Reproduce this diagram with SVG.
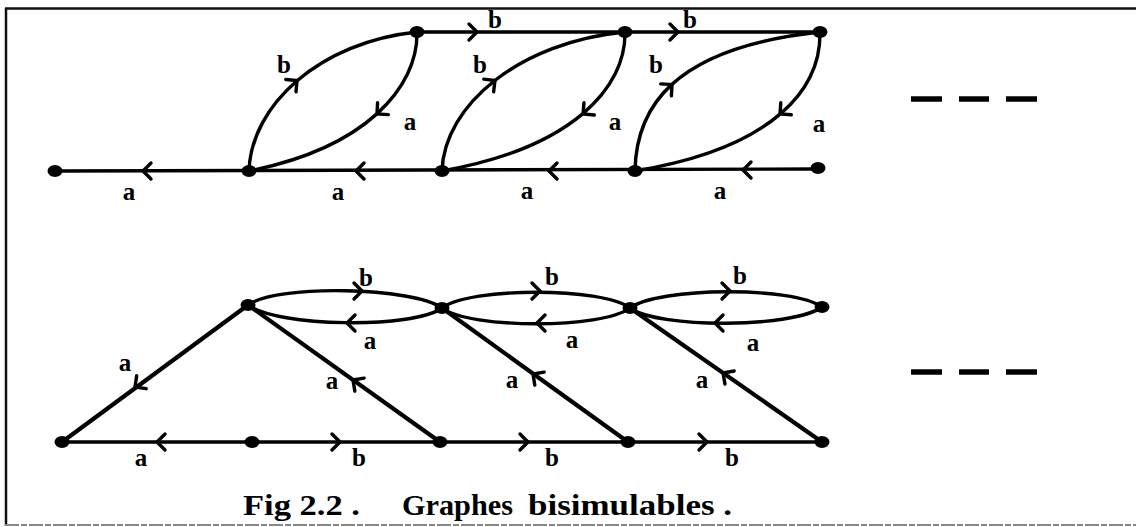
<svg xmlns="http://www.w3.org/2000/svg" xmlns:xlink="http://www.w3.org/1999/xlink" width="1136" height="527" viewBox="0 0 1136 527">
<style>
.e{fill:none;stroke:#000;stroke-width:3.4;stroke-linecap:round}
.d{fill:none;stroke:#000;stroke-width:4.2;stroke-linecap:round}
.n{fill:#000}
.l{font-family:"Liberation Serif","Times New Roman",serif;font-size:25px;font-weight:bold;fill:#000;text-anchor:middle}
.cap{font-family:"Liberation Serif","Times New Roman",serif;font-size:29px;font-weight:bold;fill:#000}
.dash{stroke:#000;stroke-width:5.5}
</style>
<defs>
<path id="ar" d="M-8,-8 L0,0 L-8,8" fill="none" stroke="#000" stroke-width="3.4" stroke-linecap="round" stroke-linejoin="miter"/>
</defs>
<rect width="1136" height="527" fill="#fff"/>
<g id="frame">
<line x1="6" y1="8" x2="6" y2="526" stroke="#111" stroke-width="2.5"/>
<line x1="5" y1="8.5" x2="1136" y2="8.5" stroke="#111" stroke-width="2.5"/>
<line x1="5" y1="525" x2="1136" y2="525" stroke="#888" stroke-width="2" stroke-dasharray="14 2 6 2"/>
</g>
<g id="connectors">
<!-- top graph -->
<line class="e" x1="55" y1="171" x2="818" y2="169"/>
<line class="e" x1="417" y1="32" x2="820" y2="32"/>
<path class="e" d="M249,171 C251,105 320,42 417,32"/>
<path class="e" d="M417,32 C418,88 365,148 249,171"/>
<path class="e" d="M442,171 C444,105 520,42 625,32"/>
<path class="e" d="M625,32 C626,88 572,148 442,171"/>
<path class="e" d="M635,171 C636,110 670,48 820,32"/>
<path class="e" d="M820,32 C821,88 775,148 635,171"/>
<use xlink:href="#ar" transform="translate(143,171) rotate(180)"/>
<use xlink:href="#ar" transform="translate(356,171) rotate(180)"/>
<use xlink:href="#ar" transform="translate(549,171) rotate(180)"/>
<use xlink:href="#ar" transform="translate(743,170) rotate(180)"/>
<use xlink:href="#ar" transform="translate(477,32)"/>
<use xlink:href="#ar" transform="translate(678,32)"/>
<use xlink:href="#ar" transform="translate(297,80.5) rotate(-40)"/>
<use xlink:href="#ar" transform="translate(377,114) rotate(138)"/>
<use xlink:href="#ar" transform="translate(495,80.5) rotate(-38)"/>
<use xlink:href="#ar" transform="translate(583,114) rotate(140)"/>
<use xlink:href="#ar" transform="translate(672,84.5) rotate(-42)"/>
<use xlink:href="#ar" transform="translate(780,114) rotate(139)"/>
<!-- bottom graph -->
<line class="e" x1="62" y1="442" x2="822" y2="442"/>
<path class="e" d="M248,305 C277,284 413,287 442,308"/>
<path class="e" d="M248,305 C277,327 413,329 442,308"/>
<path class="e" d="M442,308 C470,287 602,287 630,308"/>
<path class="e" d="M442,308 C470,329 602,329 630,308"/>
<path class="e" d="M630,308 C659,287 793,286 822,307"/>
<path class="e" d="M630,308 C659,329 793,328 822,307"/>
<line class="d" x1="248" y1="305" x2="62" y2="442"/>
<line class="d" x1="248" y1="305" x2="440" y2="442"/>
<line class="d" x1="442" y1="308" x2="628" y2="442"/>
<line class="d" x1="630" y1="308" x2="822" y2="442"/>
<use xlink:href="#ar" transform="translate(157,442) rotate(180)"/>
<use xlink:href="#ar" transform="translate(340,442)"/>
<use xlink:href="#ar" transform="translate(528,442)"/>
<use xlink:href="#ar" transform="translate(707,442)"/>
<use xlink:href="#ar" transform="translate(362,291)"/>
<use xlink:href="#ar" transform="translate(540,291)"/>
<use xlink:href="#ar" transform="translate(730,291)"/>
<use xlink:href="#ar" transform="translate(347,323) rotate(180)"/>
<use xlink:href="#ar" transform="translate(537,323) rotate(180)"/>
<use xlink:href="#ar" transform="translate(715,323) rotate(180)"/>
<use xlink:href="#ar" transform="translate(135,387) rotate(143.6)"/>
<use xlink:href="#ar" transform="translate(353,380) rotate(-144.5)"/>
<use xlink:href="#ar" transform="translate(533,374) rotate(-144.2)"/>
<use xlink:href="#ar" transform="translate(723,373) rotate(-145)"/>
</g>
<g id="nodes-top">
<g id="t1"><ellipse class="n" cx="55" cy="171" rx="7.5" ry="6"/></g>
<g id="t2"><ellipse class="n" cx="249" cy="171" rx="7.5" ry="6"/></g>
<g id="t3"><ellipse class="n" cx="442" cy="171" rx="7.5" ry="6"/></g>
<g id="t4"><ellipse class="n" cx="635" cy="171" rx="7.5" ry="6"/></g>
<g id="t5"><ellipse class="n" cx="818" cy="168" rx="7.5" ry="6"/></g>
<g id="t6"><ellipse class="n" cx="417" cy="32" rx="7.5" ry="6"/></g>
<g id="t7"><ellipse class="n" cx="625" cy="32" rx="7.5" ry="6"/></g>
<g id="t8"><ellipse class="n" cx="820" cy="32" rx="7.5" ry="6"/></g>
</g>
<g id="nodes-bottom">
<g id="b1"><ellipse class="n" cx="248" cy="305" rx="7.5" ry="6"/></g>
<g id="b2"><ellipse class="n" cx="442" cy="308" rx="7.5" ry="6"/></g>
<g id="b3"><ellipse class="n" cx="630" cy="308" rx="7.5" ry="6"/></g>
<g id="b4"><ellipse class="n" cx="822" cy="307" rx="7.5" ry="6"/></g>
<g id="b5"><ellipse class="n" cx="62" cy="442" rx="7.5" ry="6"/></g>
<g id="b6"><ellipse class="n" cx="252" cy="442" rx="7.5" ry="6"/></g>
<g id="b7"><ellipse class="n" cx="440" cy="442" rx="7.5" ry="6"/></g>
<g id="b8"><ellipse class="n" cx="628" cy="442" rx="7.5" ry="6"/></g>
<g id="b9"><ellipse class="n" cx="822" cy="442" rx="7.5" ry="6"/></g>
</g>
<g id="labels">
<text class="l" x="129" y="200">a</text>
<text class="l" x="338" y="200">a</text>
<text class="l" x="527" y="199">a</text>
<text class="l" x="720" y="199">a</text>
<text class="l" x="284" y="73">b</text>
<text class="l" x="480" y="73">b</text>
<text class="l" x="656" y="73">b</text>
<text class="l" x="410" y="130">a</text>
<text class="l" x="615" y="130">a</text>
<text class="l" x="819" y="132">a</text>
<text class="l" x="495" y="28">b</text>
<text class="l" x="690" y="28">b</text>
<text class="l" x="125" y="371">a</text>
<text class="l" x="332" y="389">a</text>
<text class="l" x="512" y="388">a</text>
<text class="l" x="702" y="388">a</text>
<text class="l" x="366" y="286">b</text>
<text class="l" x="552" y="285">b</text>
<text class="l" x="740" y="284">b</text>
<text class="l" x="370" y="349">a</text>
<text class="l" x="572" y="348">a</text>
<text class="l" x="753" y="351">a</text>
<text class="l" x="141" y="466">a</text>
<text class="l" x="359" y="466">b</text>
<text class="l" x="552" y="466">b</text>
<text class="l" x="732" y="466">b</text>
</g>
<g id="ellipsis">
<line class="dash" x1="911" y1="99" x2="942" y2="99"/>
<line class="dash" x1="959" y1="99" x2="989" y2="99"/>
<line class="dash" x1="1006" y1="99" x2="1037" y2="99"/>
<line class="dash" x1="911" y1="372" x2="942" y2="372"/>
<line class="dash" x1="959" y1="372" x2="989" y2="372"/>
<line class="dash" x1="1006" y1="372" x2="1037" y2="372"/>
</g>
<g id="caption">
<text class="cap" x="243" y="515" textLength="117" lengthAdjust="spacingAndGlyphs">Fig 2.2 .</text>
<text class="cap" x="402" y="515" textLength="111" lengthAdjust="spacingAndGlyphs">Graphes</text>
<text class="cap" x="528" y="515" textLength="204" lengthAdjust="spacingAndGlyphs">bisimulables .</text>
</g>
</svg>
